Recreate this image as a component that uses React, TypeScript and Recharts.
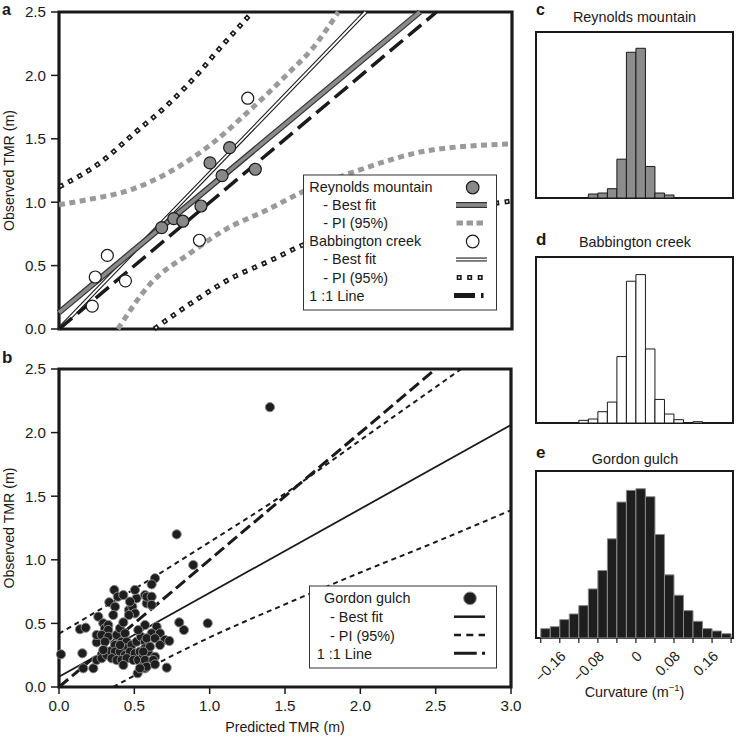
import React from "react";
import {
  ComposedChart,
  Line,
  Scatter,
  Bar,
  XAxis,
  YAxis,
  ReferenceArea,
} from "recharts";

const FONT = "'Liberation Sans', Arial, Helvetica, sans-serif";
const INK = "#1a1a1a";

// ---- panel a: Reynolds mountain + Babbington creek ----
const reynoldsPred = [0.68, 0.76, 0.82, 0.94, 1.0, 1.08, 1.13, 1.3];
const reynoldsObs = [0.8, 0.87, 0.85, 0.97, 1.31, 1.21, 1.43, 1.26];
const babbPred = [0.22, 0.24, 0.32, 0.44, 0.93, 1.25];
const babbObs = [0.18, 0.41, 0.58, 0.38, 0.7, 1.82];

const reynoldsFitX = [0, 2.39];
const reynoldsFitY = [0.13, 2.5];
const reynoldsUpX = [0, 0.19, 0.48, 0.75, 1.0, 1.25, 1.53, 1.67, 1.85];
const reynoldsUpY = [0.98, 1.02, 1.1, 1.25, 1.45, 1.71, 2.03, 2.2, 2.5];
const reynoldsLoX = [0.39, 0.6, 0.87, 1.11, 1.38, 1.61, 1.98, 2.46, 3.0];
const reynoldsLoY = [0, 0.35, 0.6, 0.79, 0.94, 1.08, 1.25, 1.41, 1.46];

const babbFitX = [0, 2.03];
const babbFitY = [0, 2.5];
const babbUpX = [0, 0.27, 0.5, 0.73, 0.94, 1.04, 1.25, 1.28];
const babbUpY = [1.12, 1.31, 1.545, 1.78, 2.04, 2.18, 2.46, 2.5];
const babbLoX = [0.63, 0.87, 1.14, 1.4, 1.61, 2.0, 2.5, 3.0];
const babbLoY = [0, 0.2, 0.4, 0.54, 0.66, 0.8, 0.92, 1.01];

const oneToOneX = [0, 2.5];
const oneToOneY = [0, 2.5];

// ---- panel b: Gordon gulch ----
const gordonPred = [
  0.013, 0.139, 0.177, 0.155, 0.161, 0.228, 0.25, 0.261, 0.25, 0.294, 0.305,
  0.327, 0.327, 0.283, 0.25, 0.283, 0.316, 0.345, 0.372, 0.367, 0.334, 0.39,
  0.372, 0.36, 0.427, 0.327, 0.383, 0.416, 0.405, 0.427, 0.438, 0.449, 0.464,
  0.487, 0.504, 0.515, 0.471, 0.504, 0.464, 0.571, 0.582, 0.571, 0.449, 0.482,
  0.515, 0.544, 0.571, 0.372, 0.405, 0.438, 0.471, 0.504, 0.537, 0.35, 0.383,
  0.416, 0.449, 0.493, 0.427, 0.526, 0.559, 0.571, 0.592, 0.559, 0.571, 0.522,
  0.305, 0.294, 0.405, 0.526, 0.891, 0.637, 0.615, 0.582, 0.615, 0.615, 0.798,
  0.829, 0.987, 0.648, 0.615, 0.67, 0.703, 0.732, 0.582, 0.637, 0.67, 0.604,
  0.559, 0.637, 0.571, 0.626, 0.582, 0.637, 0.715, 0.537, 0.781, 1.4,
];
const gordonObs = [
  0.257, 0.454, 0.466, 0.265, 0.147, 0.147, 0.351, 0.553, 0.409, 0.501, 0.461,
  0.487, 0.448, 0.409, 0.212, 0.226, 0.252, 0.283, 0.33, 0.763, 0.666, 0.71,
  0.631, 0.566, 0.723, 0.395, 0.409, 0.356, 0.461, 0.508, 0.422, 0.356, 0.605,
  0.631, 0.579, 0.697, 0.671, 0.763, 0.566, 0.723, 0.658, 0.487, 0.304, 0.33,
  0.356, 0.395, 0.356, 0.278, 0.278, 0.252, 0.278, 0.265, 0.278, 0.226, 0.212,
  0.212, 0.226, 0.212, 0.173, 0.212, 0.252, 0.304, 0.278, 0.173, 0.147, 0.108,
  0.356, 0.291, 0.33, 0.448, 0.959, 0.855, 0.807, 0.71, 0.71, 0.645, 0.508,
  0.448, 0.501, 0.474, 0.422, 0.422, 0.37, 0.362, 0.383, 0.383, 0.33, 0.317,
  0.278, 0.238, 0.212, 0.212, 0.16, 0.178, 0.152, 0.147, 1.2, 2.2,
];
const gordonFitX = [0, 3];
const gordonFitY = [0.08, 2.06];
const gordonUpX = [0, 0.5, 1.0, 1.5, 2.0, 2.67];
const gordonUpY = [0.42, 0.77, 1.14, 1.52, 1.94, 2.5];
const gordonLoX = [0.36, 0.5, 1.0, 1.5, 2.0, 2.5, 3.0];
const gordonLoY = [0, 0.09, 0.39, 0.65, 0.9, 1.14, 1.39];

const tmrTicksX = [0, 0.5, 1, 1.5, 2, 2.5, 3];
const tmrTicksY = [0, 0.5, 1, 1.5, 2, 2.5];

// ---- panels c-e: curvature histograms ----
const curvBins = [
  -0.19, -0.17, -0.15, -0.13, -0.11, -0.09, -0.07, -0.05, -0.03, -0.01, 0.01,
  0.03, 0.05, 0.07, 0.09, 0.11, 0.13, 0.15, 0.17, 0.19,
];
const reynoldsCounts = [0, 0, 0, 0, 0, 12, 15, 28, 117, 439, 451, 95, 15, 9, 0, 0, 0, 0, 0, 0];
const babbCounts = [0, 0, 0, 0, 8, 12, 34, 63, 200, 427, 447, 223, 71, 27, 10, 0, 4, 0, 0, 0];
const gordonCounts = [28, 34, 55, 72, 97, 147, 202, 297, 407, 442, 447, 423, 310, 189, 128, 82, 50, 28, 21, 13];
const curvTicks = [-0.2, -0.16, -0.12, -0.08, -0.04, 0, 0.04, 0.08, 0.12, 0.16, 0.2];
const curvTickLabels = ["", "\u22120.16", "", "\u22120.08", "", "0", "", "0.08", "", "0.16", ""];

const toPts = (xs: number[], ys: number[]) => xs.map((x, i) => ({ x, y: ys[i] }));

const lineBase = {
  dataKey: "y",
  dot: false,
  activeDot: false,
  isAnimationActive: false,
  legendType: "none" as const,
};

const tickStyle = { fontSize: 15.2, fill: INK, fontFamily: FONT };
const tickLineStyle = { stroke: INK, strokeWidth: 1.5 };
const yLabel = {
  value: "Observed TMR (m)",
  angle: -90,
  position: "insideLeft" as const,
  offset: 9,
  style: { textAnchor: "middle", fontSize: 14.2, fill: INK, fontFamily: FONT },
};

function PanelA() {
  return (
    <ComposedChart width={530} height={340} margin={{ top: 12, right: 18, left: 0, bottom: 0 }}>
      <XAxis type="number" dataKey="x" domain={[0, 3]} ticks={tmrTicksX} interval={0}
        tick={false} tickSize={7} axisLine={false} tickLine={tickLineStyle} height={11} />
      <YAxis type="number" dataKey="y" domain={[0, 2.5]} ticks={tmrTicksY} interval={0}
        width={59} tickSize={8} tickMargin={5} axisLine={false} tickLine={tickLineStyle}
        tick={tickStyle} tickFormatter={(v: number) => v.toFixed(1)} label={yLabel} />
      {/* prediction intervals */}
      <Line {...lineBase} data={toPts(reynoldsUpX, reynoldsUpY)} type="monotone"
        stroke="#9a9a9a" strokeWidth={5} strokeDasharray="6 4.5" />
      <Line {...lineBase} data={toPts(reynoldsLoX, reynoldsLoY)} type="monotone"
        stroke="#9a9a9a" strokeWidth={5} strokeDasharray="6 4.5" />
      <Line {...lineBase} data={toPts(babbUpX, babbUpY)} type="monotone"
        stroke={INK} strokeWidth={5} strokeDasharray="5 5.5" />
      <Line {...lineBase} data={toPts(babbUpX, babbUpY)} type="monotone"
        stroke="#fff" strokeWidth={1.8} strokeDasharray="0 1.6 1.8 7.1" />
      <Line {...lineBase} data={toPts(babbLoX, babbLoY)} type="monotone"
        stroke={INK} strokeWidth={5} strokeDasharray="5 5.5" />
      <Line {...lineBase} data={toPts(babbLoX, babbLoY)} type="monotone"
        stroke="#fff" strokeWidth={1.8} strokeDasharray="0 1.6 1.8 7.1" />
      {/* best fits */}
      <Line {...lineBase} data={toPts(babbFitX, babbFitY)} type="linear" stroke={INK} strokeWidth={4} />
      <Line {...lineBase} data={toPts(babbFitX, babbFitY)} type="linear" stroke="#fff" strokeWidth={1.8} />
      <Line {...lineBase} data={toPts(reynoldsFitX, reynoldsFitY)} type="linear" stroke="#333" strokeWidth={6} />
      <Line {...lineBase} data={toPts(reynoldsFitX, reynoldsFitY)} type="linear" stroke="#8a8a8a" strokeWidth={3.6} />
      <Line {...lineBase} data={toPts(oneToOneX, oneToOneY)} type="linear" stroke={INK}
        strokeWidth={3.5} strokeDasharray="17 7" />
      <Scatter data={toPts(reynoldsPred, reynoldsObs)} isAnimationActive={false}
        shape={(p: any) => <circle cx={p.cx} cy={p.cy} r={6} fill="#888" stroke={INK} strokeWidth={1.2} />} />
      <Scatter data={toPts(babbPred, babbObs)} isAnimationActive={false}
        shape={(p: any) => <circle cx={p.cx} cy={p.cy} r={6} fill="#fff" stroke={INK} strokeWidth={1.2} />} />
      <ReferenceArea x1={0} x2={3} y1={0} y2={2.5} fill="none" stroke={INK} strokeWidth={3.2} />
    </ComposedChart>
  );
}

function PanelB() {
  return (
    <ComposedChart width={530} height={398} margin={{ top: 29, right: 19, left: 0, bottom: 6 }}>
      <XAxis type="number" dataKey="x" domain={[0, 3]} ticks={tmrTicksX} interval={0}
        tickSize={7} tickMargin={6} axisLine={false} tickLine={tickLineStyle} height={45}
        tick={tickStyle} tickFormatter={(v: number) => v.toFixed(1)}
        label={{ value: "Predicted TMR (m)", position: "insideBottom", offset: 0,
          style: { fontSize: 14.2, fill: INK, fontFamily: FONT } }} />
      <YAxis type="number" dataKey="y" domain={[0, 2.5]} ticks={tmrTicksY} interval={0}
        width={59} tickSize={8} tickMargin={5} axisLine={false} tickLine={tickLineStyle}
        tick={tickStyle} tickFormatter={(v: number) => v.toFixed(1)} label={yLabel} />
      <Line {...lineBase} data={toPts(gordonUpX, gordonUpY)} type="monotone"
        stroke={INK} strokeWidth={2} strokeDasharray="5 4" />
      <Line {...lineBase} data={toPts(gordonLoX, gordonLoY)} type="monotone"
        stroke={INK} strokeWidth={2} strokeDasharray="5 4" />
      <Line {...lineBase} data={toPts(gordonFitX, gordonFitY)} type="linear"
        stroke={INK} strokeWidth={1.8} />
      <Line {...lineBase} data={toPts(oneToOneX, oneToOneY)} type="linear" stroke={INK}
        strokeWidth={3} strokeDasharray="12 5" />
      <Scatter data={toPts(gordonPred, gordonObs)} isAnimationActive={false}
        shape={(p: any) => <circle cx={p.cx} cy={p.cy} r={4.6} fill="#1e1e1e" stroke="#8a8a8a" strokeWidth={1} />} />
      <ReferenceArea x1={0} x2={3} y1={0} y2={2.5} fill="none" stroke={INK} strokeWidth={3.2} />
    </ComposedChart>
  );
}

function CurvTick(props: any) {
  const { x, y, index } = props;
  const label = curvTickLabels[index];
  if (!label) return <g />;
  return (
    <text x={x + 7} y={y + 12} textAnchor="end" fontSize={14.4} fill={INK} fontFamily={FONT}
      transform={`rotate(-45 ${x + 7} ${y + 12})`}>
      {label}
    </text>
  );
}

function Histogram(props: {
  counts: number[]; fill: string; stroke: string; height: number; top: number; axisH: number; labels?: boolean;
}) {
  const data = curvBins.map((mid, i) => ({ mid, count: props.counts[i] }));
  return (
    <ComposedChart width={206} height={props.height} data={data}
      margin={{ top: props.top, right: 3, left: 6, bottom: 0 }}>
      <XAxis type="number" dataKey="mid" domain={[-0.21, 0.204]} ticks={curvTicks} interval={0}
        tickSize={5} axisLine={false} tickLine={{ stroke: INK, strokeWidth: 1.2 }} height={props.axisH}
        tick={props.labels ? <CurvTick /> : false} allowDataOverflow />
      <YAxis hide type="number" domain={[0, 500]} />
      <Bar dataKey="count" barSize={9.5} fill={props.fill} stroke={props.stroke} strokeWidth={1}
        isAnimationActive={false} />
      <ReferenceArea x1={-0.21} x2={0.204} y1={0} y2={500} fill="none" stroke={INK} strokeWidth={2} />
    </ComposedChart>
  );
}

function Annotations() {
  const t = { fontFamily: FONT, fill: INK };
  return (
    <svg width={736} height={738} style={{ position: "absolute", left: 0, top: 0, pointerEvents: "none" }}>
      {/* panel letters */}
      <text x={2} y={14.5} fontSize={16} fontWeight="bold" {...t}>a</text>
      <text x={2} y={363} fontSize={17} fontWeight="bold" {...t}>b</text>
      <text x={536} y={14.5} fontSize={16} fontWeight="bold" {...t}>c</text>
      <text x={536} y={245} fontSize={17} fontWeight="bold" {...t}>d</text>
      <text x={536} y={458} fontSize={17} fontWeight="bold" {...t}>e</text>
      {/* histogram titles */}
      <text x={634.5} y={22} fontSize={14.4} textAnchor="middle" {...t}>Reynolds mountain</text>
      <text x={635} y={247} fontSize={14.4} textAnchor="middle" {...t}>Babbington creek</text>
      <text x={635} y={463.5} fontSize={14.4} textAnchor="middle" {...t}>Gordon gulch</text>
      <text x={634.5} y={697} fontSize={14.4} textAnchor="middle" {...t}>
        Curvature (m<tspan dy={-6} fontSize={9.5}>{"\u22121"}</tspan><tspan dy={6}>)</tspan>
      </text>

      {/* legend a */}
      <rect x={303.5} y={175} width={193} height={135} fill="#fff" stroke="#333" strokeWidth={1} />
      <text x={309.3} y={192} fontSize={14.4} {...t}>Reynolds mountain</text>
      <text x={323.3} y={210.1} fontSize={14.4} {...t}>- Best fit</text>
      <text x={323.3} y={228.2} fontSize={14.4} {...t}>- PI (95%)</text>
      <text x={309.3} y={246.3} fontSize={14.4} {...t}>Babbington creek</text>
      <text x={323.3} y={264.4} fontSize={14.4} {...t}>- Best fit</text>
      <text x={323.3} y={282.5} fontSize={14.4} {...t}>- PI (95%)</text>
      <text x={309.3} y={300.6} fontSize={14.4} {...t}>1 :1 Line</text>
      <circle cx={472.7} cy={187.5} r={6.3} fill="#888" stroke={INK} strokeWidth={1.2} />
      <line x1={456} x2={487} y1={205} y2={205} stroke="#333" strokeWidth={6} />
      <line x1={456} x2={487} y1={205} y2={205} stroke="#8a8a8a" strokeWidth={3.6} />
      <line x1={456.5} x2={486} y1={223} y2={223} stroke="#9a9a9a" strokeWidth={5} strokeDasharray="6.5 3.5" />
      <circle cx={472.7} cy={241.5} r={6.3} fill="#fff" stroke={INK} strokeWidth={1.2} />
      <line x1={456} x2={487} y1={259.5} y2={259.5} stroke={INK} strokeWidth={4} />
      <line x1={456} x2={487} y1={259.5} y2={259.5} stroke="#fff" strokeWidth={1.8} />
      <line x1={456.7} x2={485} y1={277.5} y2={277.5} stroke={INK} strokeWidth={5} strokeDasharray="5 5.5" />
      <line x1={456.7} x2={485} y1={277.5} y2={277.5} stroke="#fff" strokeWidth={1.8} strokeDasharray="0 1.6 1.8 7.1" />
      <line x1={454} x2={485} y1={295.5} y2={295.5} stroke={INK} strokeWidth={5} strokeDasharray="21 6 2.5 50" />

      {/* legend b */}
      <rect x={309.5} y={586} width={187} height={82} fill="#fff" stroke="#333" strokeWidth={1} />
      <text x={324} y={603.3} fontSize={14.4} {...t}>Gordon gulch</text>
      <text x={330} y={621.9} fontSize={14.4} {...t}>- Best fit</text>
      <text x={330} y={640.5} fontSize={14.4} {...t}>- PI (95%)</text>
      <text x={316.7} y={659} fontSize={14.4} {...t}>1 :1 Line</text>
      <circle cx={470} cy={598.3} r={6.3} fill="#1e1e1e" stroke="#8a8a8a" strokeWidth={1} />
      <line x1={454} x2={485} y1={616.7} y2={616.7} stroke={INK} strokeWidth={2.5} />
      <line x1={454} x2={485} y1={635} y2={635} stroke={INK} strokeWidth={2.5} strokeDasharray="7 5.3" />
      <line x1={454} x2={485} y1={653.3} y2={653.3} stroke={INK} strokeWidth={3} strokeDasharray="22.7 5.3 3 50" />
    </svg>
  );
}

export default function App() {
  return (
    <div style={{ position: "absolute", left: 0, top: 0, width: 736, height: 738, background: "#fff", fontFamily: FONT }}>
      <div style={{ position: "absolute", left: 0, top: 0 }}><PanelA /></div>
      <div style={{ position: "absolute", left: 0, top: 340 }}><PanelB /></div>
      <div style={{ position: "absolute", left: 530, top: 0 }}>
        <Histogram counts={reynoldsCounts} fill="#8c8c8c" stroke={INK} height={215} top={32} axisH={17} />
      </div>
      <div style={{ position: "absolute", left: 530, top: 240 }}>
        <Histogram counts={babbCounts} fill="#fff" stroke={INK} height={200} top={17} axisH={17} />
      </div>
      <div style={{ position: "absolute", left: 530, top: 455 }}>
        <Histogram counts={gordonCounts} fill="#1e1e1e" stroke="#8a8a8a" height={283} top={16} axisH={100} labels />
      </div>
      <Annotations />
    </div>
  );
}
